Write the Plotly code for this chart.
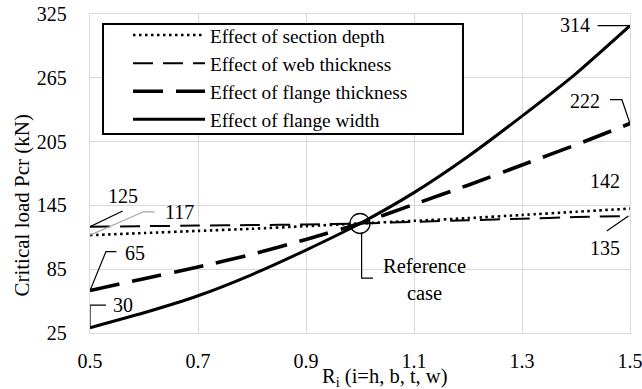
import plotly.graph_objects as go

# Normalised parameter ratio R_i
ratio = [0.5, 0.6, 0.7, 0.8, 0.9, 1.0, 1.1, 1.2, 1.3, 1.4, 1.5]

# Critical load Pcr (kN) for each parametric study
section_depth = [117, 119, 121, 123, 125.5, 128, 130.5, 133, 136, 139, 142]
web_thickness = [125, 125.5, 126, 126.5, 127, 128, 129.5, 131, 132.5, 134, 135]
flange_thickness = [65, 76, 87, 99, 113, 128, 146, 164, 183, 202, 222]
flange_width = [30, 44, 60, 80, 103, 128, 157, 191, 229, 269, 314]

series_names = [
    "Effect of section depth",
    "Effect of web thickness",
    "Effect of flange thickness",
    "Effect of flange width",
]

x_ticks = [0.5, 0.7, 0.9, 1.1, 1.3, 1.5]
y_ticks = [25, 85, 145, 205, 265, 325]

FONT = "Liberation Serif"
GRID = "#d9d9d9"

styles = [
    dict(color="black", width=2.6, dash="2.5px,3.5px"),
    dict(color="black", width=2.0, dash="20px,10px"),
    dict(color="black", width=3.6, dash="30px,13px"),
    dict(color="black", width=3.0),
]

fig = go.Figure()
for name, ys, st in zip(series_names,
                        [section_depth, web_thickness, flange_thickness, flange_width],
                        styles):
    fig.add_trace(go.Scatter(x=ratio, y=ys, mode="lines", name=name,
                             line=dict(shape="spline", smoothing=0.6, **st)))

# End-value callouts with leader lines
end_labels = [
    # (text, x, y, leader path points, leader colour)
    (str(flange_width[-1]), 1.398, 314.5, [(1.44, flange_width[-1]), (ratio[-1], flange_width[-1])], "black"),
    (str(flange_thickness[-1]), 1.417, 243, [(1.463, 244.4), (1.485, 244.4), (ratio[-1], flange_thickness[-1])], "black"),
    (str(section_depth[-1]), 1.454, 168, None, "black"),
    (str(web_thickness[-1]), 1.454, 104.5, [(1.457, 121), (1.497, web_thickness[-1])], "black"),
    (str(web_thickness[0]), 0.561, 153.5, [(0.5605, 139.7), (ratio[0], web_thickness[0])], "black"),
    (str(section_depth[0]), 0.665, 138.7, [(0.62, 139), (0.599, 139), (ratio[0], section_depth[0])], "#a6a6a6"),
    (str(flange_thickness[0]), 0.583, 100.6, [(0.549, 101.6), (0.5296, 101.6), (ratio[0], flange_thickness[0])], "black"),
    (str(flange_width[0]), 0.5605, 51.5, [(0.5296, 51.3), (0.5, 51.3), (ratio[0], flange_width[0])], "black"),
]

shapes = []
annotations = []
for text, tx, ty, pts, col in end_labels:
    annotations.append(dict(x=tx, y=ty, xref="x", yref="y", text=text, showarrow=False,
                            font=dict(family=FONT, size=20, color="black")))
    if pts:
        path = "M " + " L ".join(f"{px},{py}" for px, py in pts)
        shapes.append(dict(type="path", path=path, xref="x", yref="y",
                           line=dict(color=col, width=1.2)))

# Reference case marker and callout
ref_x, ref_y = 1.0, 128
shapes.append(dict(type="circle", xref="x", yref="y", xsizemode="pixel", ysizemode="pixel",
                   xanchor=ref_x, yanchor=ref_y, x0=-10, x1=10, y0=-10, y1=10,
                   line=dict(color="black", width=1.3)))
shapes.append(dict(type="path", xref="x", yref="y",
                   path="M 1.003,119.5 L 1.003,76.6 L 1.024,76.6",
                   line=dict(color="black", width=1.2)))
annotations.append(dict(x=1.12, y=75.5, xref="x", yref="y", text="Reference<br>case",
                        showarrow=False, align="center",
                        font=dict(family=FONT, size=20.5, color="black")))

# Legend frame (white box hiding the grid behind the legend)
shapes.append(dict(type="rect", xref="paper", yref="paper",
                   x0=0.0241, x1=0.6907, y0=0.6238, y1=0.9687,
                   line=dict(color="black", width=2), fillcolor="white", layer="above"))

# Axis titles
annotations.append(dict(x=-0.125, y=0.401, xref="paper", yref="paper", textangle=-90,
                        xanchor="center", yanchor="middle",
                        text="Critical load Pcr (kN)", showarrow=False,
                        font=dict(family=FONT, size=21, color="black")))
annotations.append(dict(x=0.546, y=-0.138, xref="paper", yref="paper", yanchor="middle",
                        text="R<sub>i</sub> (i=h, b, t, w)", showarrow=False,
                        font=dict(family=FONT, size=20.5, color="black")))

fig.update_layout(
    width=642, height=389,
    margin=dict(l=90, r=12, t=14, b=56),
    paper_bgcolor="white", plot_bgcolor="white",
    font=dict(family=FONT, size=20, color="black"),
    shapes=shapes,
    annotations=annotations,
    legend=dict(x=0.0704, y=0.9937, xanchor="left", yanchor="top",
                borderwidth=0, bgcolor="rgba(0,0,0,0)",
                itemwidth=72, font=dict(family=FONT, size=19.3, color="black"),
                tracegroupgap=0),
    xaxis=dict(range=[0.5, 1.5], tickvals=x_ticks, ticktext=[str(v) for v in x_ticks],
               showgrid=True, gridcolor=GRID, gridwidth=1.3, automargin=False,
               showline=True, linecolor=GRID, linewidth=1.3, mirror=True,
               zeroline=False, ticks="", ticklabelstandoff=10, ticklabeloverflow="allow",
               tickfont=dict(family=FONT, size=20, color="black")),
    yaxis=dict(range=[25, 325], tickvals=y_ticks, automargin=False,
               showgrid=True, gridcolor=GRID, gridwidth=1.3,
               showline=True, linecolor=GRID, linewidth=1.3, mirror=True,
               zeroline=False, ticks="", ticklabelstandoff=18, ticklabeloverflow="allow",
               tickfont=dict(family=FONT, size=20, color="black")),
)

fig.write_html("out.html")
